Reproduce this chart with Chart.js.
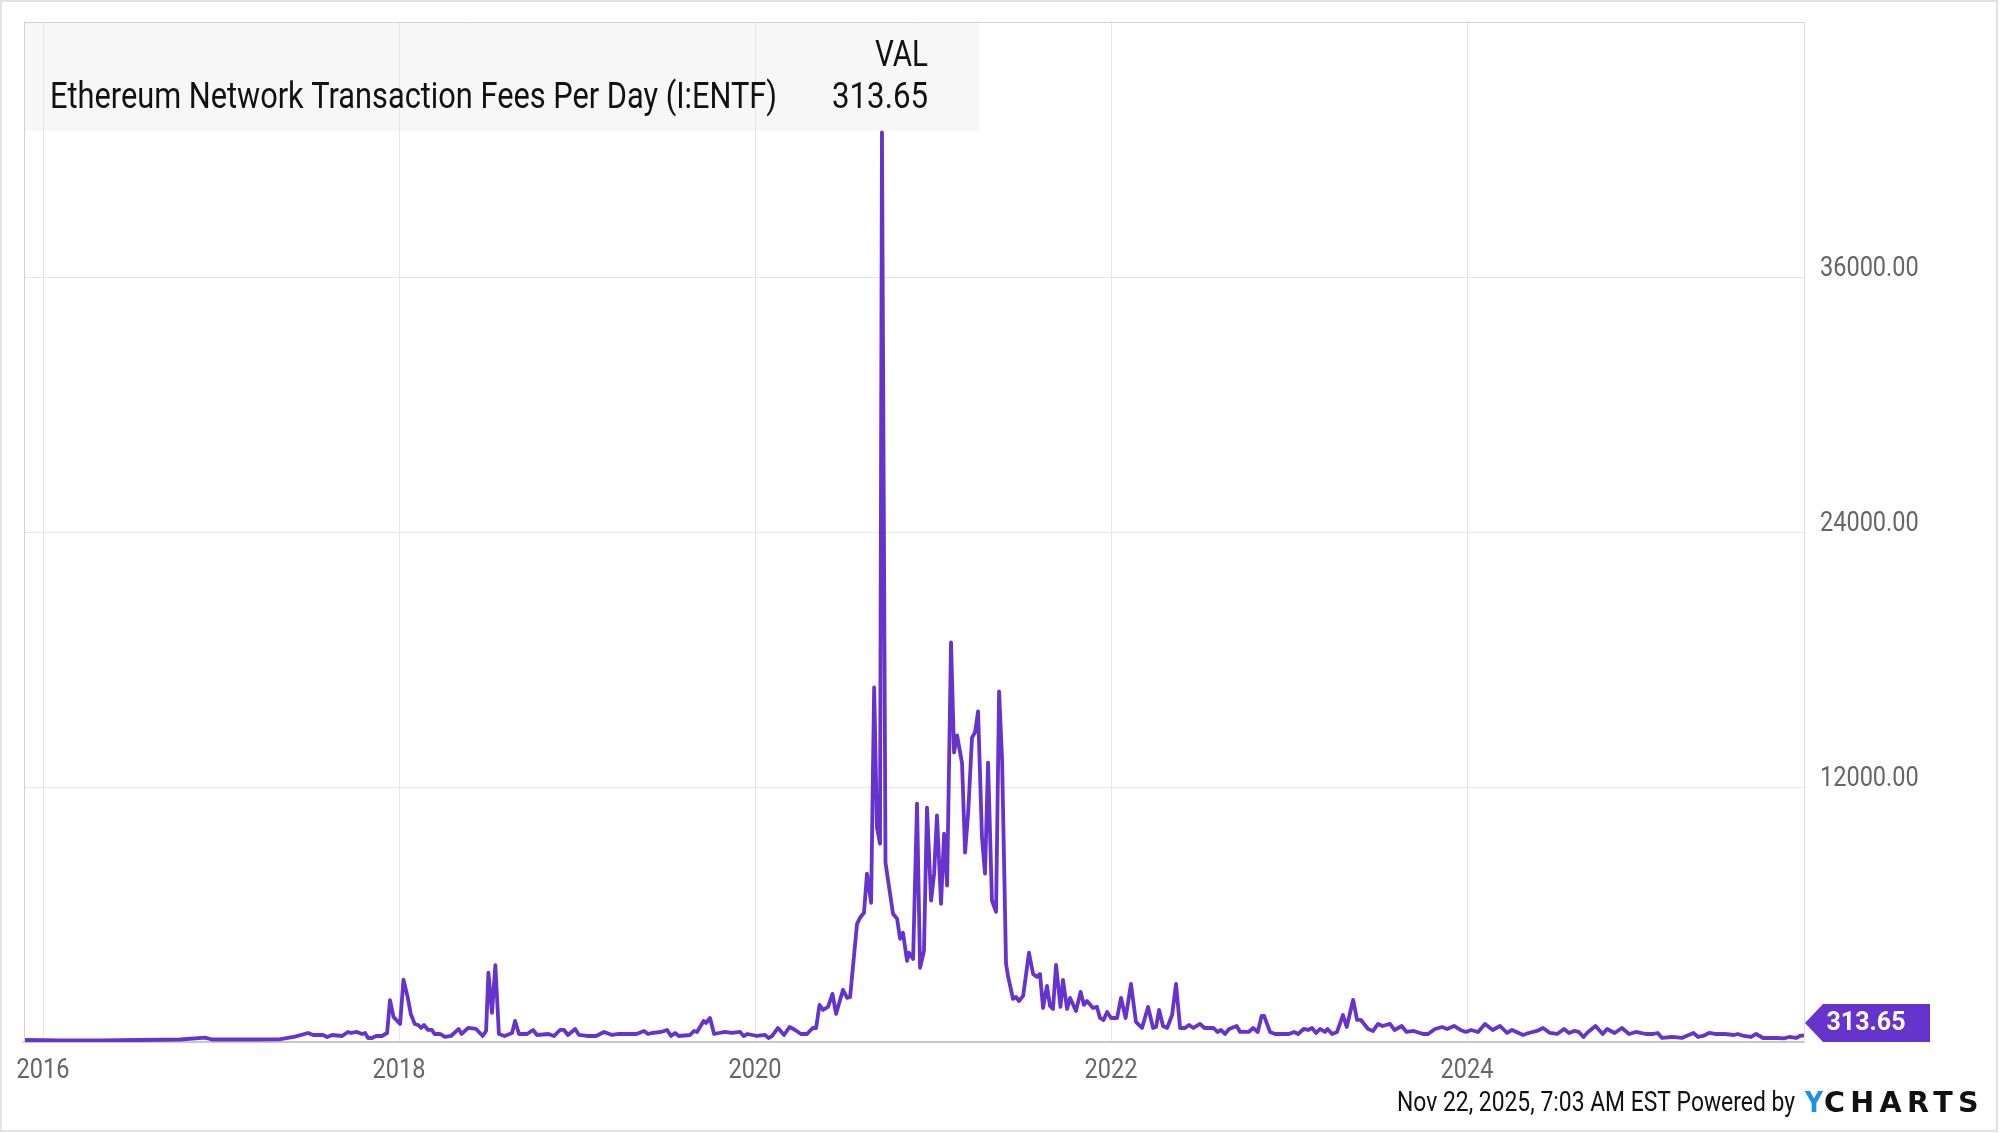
<!DOCTYPE html>
<html>
<head>
<meta charset="utf-8">
<title>Ethereum Network Transaction Fees Per Day</title>
<script src="https://cdn.jsdelivr.net/npm/chart.js@4.4.1/dist/chart.umd.min.js"></script>
<style>
  html, body { margin: 0; padding: 0; background: #fff; }
  #wrap { width: 2000px; height: 1133px; }
</style>
</head>
<body>
<div id="wrap"><canvas id="feesChart" width="2000" height="1133"></canvas></div>
<script>
// --- data (decimal year, fees per day) ---
const years = [
  2015.899, 2016.096, 2016.320, 2016.545, 2016.770, 2016.910, 2016.949, 2017.163, 2017.326, 2017.416,
  2017.489, 2017.517, 2017.573, 2017.596, 2017.624, 2017.680, 2017.713, 2017.730, 2017.764, 2017.792,
  2017.809, 2017.826, 2017.848, 2017.871, 2017.904, 2017.933, 2017.949, 2017.969, 2018.006, 2018.025,
  2018.049, 2018.066, 2018.088, 2018.107, 2018.124, 2018.140, 2018.163, 2018.185, 2018.199, 2018.230,
  2018.258, 2018.292, 2018.335, 2018.352, 2018.388, 2018.433, 2018.470, 2018.489, 2018.502, 2018.522,
  2018.541, 2018.561, 2018.593, 2018.635, 2018.652, 2018.674, 2018.719, 2018.753, 2018.775, 2018.840,
  2018.871, 2018.904, 2018.927, 2018.949, 2018.989, 2019.011, 2019.056, 2019.107, 2019.152, 2019.197,
  2019.236, 2019.292, 2019.334, 2019.376, 2019.399, 2019.421, 2019.472, 2019.506, 2019.528, 2019.551,
  2019.571, 2019.635, 2019.657, 2019.674, 2019.711, 2019.725, 2019.747, 2019.770, 2019.798, 2019.829,
  2019.871, 2019.916, 2019.936, 2019.958, 2020.011, 2020.056, 2020.076, 2020.096, 2020.129, 2020.163,
  2020.194, 2020.225, 2020.258, 2020.292, 2020.324, 2020.343, 2020.362, 2020.382, 2020.410, 2020.435,
  2020.455, 2020.494, 2020.517, 2020.534, 2020.573, 2020.590, 2020.612, 2020.629, 2020.652, 2020.669,
  2020.685, 2020.702, 2020.713, 2020.733, 2020.775, 2020.798, 2020.815, 2020.831, 2020.854, 2020.865,
  2020.888, 2020.910, 2020.927, 2020.949, 2020.966, 2020.989, 2021.006, 2021.022, 2021.045, 2021.062,
  2021.079, 2021.101, 2021.118, 2021.135, 2021.163, 2021.180, 2021.197, 2021.219, 2021.236, 2021.253,
  2021.275, 2021.292, 2021.309, 2021.331, 2021.354, 2021.371, 2021.388, 2021.410, 2021.421, 2021.449,
  2021.466, 2021.483, 2021.506, 2021.539, 2021.562, 2021.584, 2021.601, 2021.618, 2021.640, 2021.657,
  2021.674, 2021.691, 2021.716, 2021.730, 2021.753, 2021.770, 2021.803, 2021.829, 2021.848, 2021.865,
  2021.899, 2021.921, 2021.938, 2021.958, 2021.978, 2022.000, 2022.034, 2022.056, 2022.082, 2022.112,
  2022.140, 2022.174, 2022.208, 2022.236, 2022.253, 2022.270, 2022.292, 2022.315, 2022.343, 2022.365,
  2022.388, 2022.416, 2022.438, 2022.463, 2022.500, 2022.525, 2022.576, 2022.598, 2022.618, 2022.640,
  2022.663, 2022.706, 2022.725, 2022.773, 2022.798, 2022.824, 2022.846, 2022.860, 2022.893, 2022.921,
  2023.000, 2023.028, 2023.051, 2023.082, 2023.107, 2023.129, 2023.152, 2023.174, 2023.202, 2023.216,
  2023.242, 2023.270, 2023.303, 2023.324, 2023.360, 2023.382, 2023.404, 2023.444, 2023.472, 2023.500,
  2023.525, 2023.567, 2023.593, 2023.633, 2023.660, 2023.700, 2023.753, 2023.781, 2023.820, 2023.860,
  2023.888, 2023.927, 2023.963, 2023.994, 2024.022, 2024.062, 2024.101, 2024.144, 2024.185, 2024.225,
  2024.253, 2024.278, 2024.315, 2024.346, 2024.393, 2024.427, 2024.466, 2024.506, 2024.545, 2024.573,
  2024.601, 2024.628, 2024.654, 2024.680, 2024.722, 2024.762, 2024.787, 2024.829, 2024.870, 2024.910,
  2024.949, 2025.004, 2025.045, 2025.071, 2025.096, 2025.152, 2025.206, 2025.272, 2025.298, 2025.326,
  2025.360, 2025.393, 2025.447, 2025.500, 2025.520, 2025.556, 2025.596, 2025.624, 2025.663, 2025.742,
  2025.784, 2025.809, 2025.848, 2025.871, 2025.893
];
const fees = [
  94, 71, 80, 94, 118, 207, 118, 118, 127, 250,
  424, 330, 330, 236, 330, 283, 472, 424, 472, 377,
  424, 189, 189, 283, 283, 424, 1966, 1179, 849, 2937,
  2089, 1320, 849, 802, 660, 802, 566, 566, 377, 377,
  236, 283, 613, 377, 660, 613, 283, 519, 3267, 1367,
  3616, 377, 283, 424, 990, 377, 377, 566, 330, 377,
  283, 566, 566, 330, 613, 330, 283, 283, 472, 330,
  377, 377, 377, 519, 377, 424, 472, 566, 283, 424,
  283, 330, 519, 472, 990, 896, 1132, 377, 424, 472,
  424, 472, 283, 377, 283, 330, 189, 283, 660, 330,
  707, 566, 377, 377, 660, 660, 1745, 1509, 1650, 2263,
  1320, 2452, 2075, 2120, 5560, 5850, 6080, 7920, 6550, 16690,
  10090, 9335, 42810, 8440, 6035, 5800, 4856, 5140, 3820, 4200,
  3910, 11220, 3490, 4290, 11030, 6650, 7920, 10660, 6500, 9800,
  7355, 18810, 13630, 14430, 13110, 8910, 10750, 14330, 14570, 15560,
  9620, 7920, 13150, 6650, 6130, 16500, 13250, 3680, 3110, 2030,
  2120, 1930, 2170, 4200, 3200, 3065, 3200, 1600, 2640, 1700,
  1555, 3630, 1650, 2920, 1555, 2075, 1460, 2360, 1745, 1930,
  1600, 1650, 1130, 1030, 1415, 1130, 1130, 2075, 1130, 2735,
  943, 660, 1650, 660, 707, 1509, 754, 660, 1273, 2735,
  660, 660, 802, 660, 849, 660, 660, 472, 566, 377,
  613, 754, 472, 472, 660, 472, 1226, 1226, 472, 377,
  377, 472, 377, 613, 566, 660, 424, 613, 472, 613,
  377, 472, 1273, 707, 1980, 1037, 1037, 613, 519, 849,
  754, 849, 566, 754, 472, 519, 377, 377, 613, 707,
  613, 754, 566, 472, 566, 472, 849, 566, 754, 424,
  566, 472, 330, 424, 519, 660, 424, 377, 613, 424,
  519, 472, 236, 472, 754, 377, 613, 424, 660, 377,
  472, 377, 377, 424, 189, 236, 189, 424, 236, 283,
  424, 377, 377, 330, 377, 283, 236, 377, 189, 189,
  174, 236, 189, 283, 313.65
];
const xTickYears = [2016, 2018, 2020, 2022, 2024];
const yTickValues = [12000, 24000, 36000];
const seriesName = 'Ethereum Network Transaction Fees Per Day (I:ENTF)';
const stampText = 'Nov 22, 2025, 7:03 AM EST Powered by';

const purple = '#6633CC';
const fontFamily = 'Roboto, "Noto Sans", sans-serif';

// YCharts uses a narrow face; squeeze canvas text horizontally to match
const canvas = document.getElementById('feesChart');
const ctx = canvas.getContext('2d');
let squeeze = 0.84;
const nativeFillText = ctx.fillText;
ctx.fillText = function (text, x, y, maxWidth) {
  let w = this.measureText(text).width * squeeze;
  if (maxWidth !== undefined && maxWidth !== null) w = Math.min(w, maxWidth);
  return nativeFillText.call(this, text, x, y, w);
};

const lastValue = fees[fees.length - 1];

const ychartsDecor = {
  id: 'ychartsDecor',
  beforeDraw(chart) {
    const c = chart.ctx, a = chart.chartArea;
    // legend box sits under the grid lines
    c.save();
    c.fillStyle = '#f7f7f7';
    c.fillRect(a.left, a.top, 979 - a.left, 131 - a.top);
    c.restore();
  },
  afterDraw(chart) {
    const c = chart.ctx, a = chart.chartArea;
    c.save();
    squeeze = 1;

    // frame, left and top
    c.strokeStyle = '#d2d2d2';
    c.lineWidth = 1;
    c.beginPath();
    c.moveTo(a.left + 0.5, a.bottom);
    c.lineTo(a.left + 0.5, a.top + 0.5);
    c.lineTo(a.right, a.top + 0.5);
    c.stroke();

    // legend text
    c.fillStyle = '#111';
    c.font = '36px ' + fontFamily;
    c.textBaseline = 'alphabetic';
    c.textAlign = 'right';
    c.fillText('VAL', 928, 66, 53);
    c.fillText(lastValue.toFixed(2), 928, 108, 96);
    c.textAlign = 'left';
    c.fillText(seriesName, 50, 108, 727);

    // last value tag
    const py = Math.min(chart.scales.y.getPixelForValue(lastValue), a.bottom - 19);
    const tipX = a.right + 1;
    c.fillStyle = purple;
    c.beginPath();
    c.moveTo(tipX, py);
    c.lineTo(tipX + 18, py - 19);
    c.lineTo(tipX + 125, py - 19);
    c.lineTo(tipX + 125, py + 19);
    c.lineTo(tipX + 18, py + 19);
    c.closePath();
    c.fill();
    c.fillStyle = '#fff';
    c.font = 'bold 25px ' + fontFamily;
    c.textAlign = 'center';
    c.textBaseline = 'middle';
    c.fillText(lastValue.toFixed(2), tipX + 61, py + 1);

    // footer
    c.textBaseline = 'alphabetic';
    c.textAlign = 'right';
    c.fillStyle = '#111';
    c.font = '27px ' + fontFamily;
    c.fillText(stampText, 1795, 1111, 398);

    c.textAlign = 'left';
    c.font = 'bold 29px "DejaVu Sans", ' + fontFamily;
    c.fillStyle = '#1E90E6';
    c.fillText('Y', 1805, 1112, 18);
    c.fillStyle = '#111';
    const w = c.measureText('CHARTS').width;
    c.letterSpacing = Math.max(0, (157 - w) / 5).toFixed(2) + 'px';
    c.fillText('CHARTS', 1824, 1112, 160);
    c.letterSpacing = '0px';

    // outer border
    c.strokeStyle = '#e2e2e2';
    c.lineWidth = 2;
    c.strokeRect(1, 1, 1996, 1130);

    squeeze = 0.84;
    c.restore();
  }
};

new Chart(ctx, {
  type: 'line',
  data: {
    datasets: [{
      label: seriesName,
      data: years.map((yr, i) => ({ x: yr, y: fees[i] })),
      borderColor: purple,
      borderWidth: 3.8,
      borderJoinStyle: 'round',
      pointRadius: 0,
      tension: 0,
      fill: false
    }]
  },
  options: {
    responsive: false,
    devicePixelRatio: 1,
    animation: false,
    events: [],
    layout: { padding: { top: 22, left: 24, right: 0, bottom: 0 } },
    plugins: {
      legend: { display: false },
      tooltip: { enabled: false }
    },
    scales: {
      x: {
        type: 'linear',
        min: 2015.893,
        max: 2025.893,
        afterBuildTicks: s => { s.ticks = xTickYears.map(v => ({ value: v })); },
        afterFit: s => { s.height = 91; s.paddingLeft = 0; s.paddingRight = 0; },
        grid: { color: '#e6e6e6', drawTicks: false },
        border: { color: '#c8c8c8', width: 2 },
        ticks: {
          color: '#666',
          padding: 12,
          maxRotation: 0,
          autoSkip: false,
          font: { family: fontFamily, size: 28 },
          callback: v => String(v)
        }
      },
      y: {
        position: 'right',
        min: 0,
        max: 48000,
        afterBuildTicks: s => { s.ticks = yTickValues.map(v => ({ value: v })); },
        afterFit: s => { s.width = 196; s.paddingTop = 0; s.paddingBottom = 0; },
        grid: { color: '#e6e6e6', drawTicks: false },
        border: { color: '#dcdcdc', width: 1 },
        ticks: {
          color: '#666',
          padding: 16,
          labelOffset: -8,
          font: { family: fontFamily, size: 28 },
          callback: v => Number(v).toFixed(2)
        }
      }
    }
  },
  plugins: [ychartsDecor]
});
</script>
</body>
</html>
